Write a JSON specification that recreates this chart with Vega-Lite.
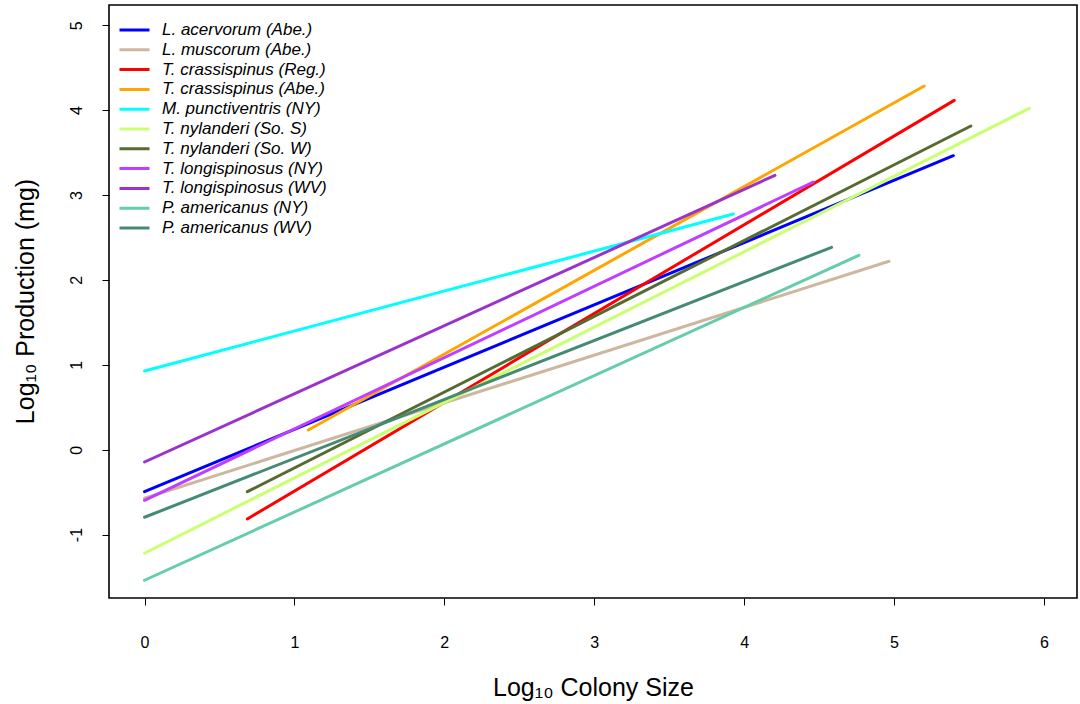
{
  "$schema": "https://vega.github.io/schema/vega-lite/v6.json",
  "width": 968,
  "height": 593,
  "autosize": {"type": "none"},
  "padding": {"left": 109, "top": 5, "right": 3, "bottom": 106},
  "background": "white",
  "config": {
    "font": "Liberation Sans",
    "view": {"stroke": "black", "strokeWidth": 1.6}
  },
  "data": {
    "values": [
      {"series": "L. acervorum (Abe.)", "x": 0.0, "y": -0.495},
      {"series": "L. acervorum (Abe.)", "x": 5.396, "y": 3.463},
      {"series": "L. muscorum (Abe.)", "x": 0.0, "y": -0.572},
      {"series": "L. muscorum (Abe.)", "x": 4.967, "y": 2.219},
      {"series": "T. crassispinus (Reg.)", "x": 0.686, "y": -0.816},
      {"series": "T. crassispinus (Reg.)", "x": 5.402, "y": 4.115},
      {"series": "T. crassispinus (Abe.)", "x": 1.093, "y": 0.232},
      {"series": "T. crassispinus (Abe.)", "x": 5.202, "y": 4.284},
      {"series": "M. punctiventris (NY)", "x": 0.0, "y": 0.927},
      {"series": "M. punctiventris (NY)", "x": 3.928, "y": 2.776},
      {"series": "T. nylanderi (So. S)", "x": 0.0, "y": -1.22},
      {"series": "T. nylanderi (So. S)", "x": 5.903, "y": 4.021},
      {"series": "T. nylanderi (So. W)", "x": 0.686, "y": -0.495},
      {"series": "T. nylanderi (So. W)", "x": 5.513, "y": 3.813},
      {"series": "T. longispinosus (NY)", "x": 0.0, "y": -0.596},
      {"series": "T. longispinosus (NY)", "x": 4.462, "y": 3.153},
      {"series": "T. longispinosus (WV)", "x": 0.0, "y": -0.145},
      {"series": "T. longispinosus (WV)", "x": 4.206, "y": 3.232},
      {"series": "P. americanus (NY)", "x": 0.0, "y": -1.538},
      {"series": "P. americanus (NY)", "x": 4.766, "y": 2.29},
      {"series": "P. americanus (WV)", "x": 0.0, "y": -0.796},
      {"series": "P. americanus (WV)", "x": 4.584, "y": 2.384}
    ]
  },
  "mark": {"type": "line", "strokeWidth": 3, "strokeCap": "round"},
  "encoding": {
    "x": {
      "field": "x",
      "type": "quantitative",
      "scale": {"domain": [-0.237, 6.221], "nice": false, "zero": false},
      "axis": {
        "values": [0, 1, 2, 3, 4, 5, 6],
        "labelExpr": "'' + datum.value",
        "grid": false,
        "domain": false,
        "tickColor": "black",
        "tickSize": 7,
        "tickWidth": 1,
        "labelFontSize": 16,
        "labelColor": "black",
        "labelBaseline": "alphabetic",
        "labelPadding": 42,
        "title": "Log₁₀ Colony Size",
        "titleFontSize": 25,
        "titleFontWeight": "normal",
        "titleColor": "black",
        "titleBaseline": "alphabetic",
        "titleY": 97,
        "titleX": 484
      }
    },
    "y": {
      "field": "y",
      "type": "quantitative",
      "scale": {"domain": [-1.747, 5.238], "nice": false, "zero": false},
      "axis": {
        "values": [-1, 0, 1, 2, 3, 4, 5],
        "labelExpr": "'' + datum.value",
        "grid": false,
        "domain": false,
        "tickColor": "black",
        "tickSize": 7,
        "tickWidth": 1,
        "labelFontSize": 16,
        "labelColor": "black",
        "labelAngle": -90,
        "labelAlign": "center",
        "labelBaseline": "alphabetic",
        "labelPadding": 21,
        "title": "Log₁₀ Production (mg)",
        "titleFontSize": 25,
        "titleFontWeight": "normal",
        "titleColor": "black",
        "titleAngle": -90,
        "titleAlign": "center",
        "titleBaseline": "alphabetic",
        "titleX": -76,
        "titleY": 296
      }
    },
    "color": {
      "field": "series",
      "type": "nominal",
      "scale": {
        "domain": [
          "L. acervorum (Abe.)",
          "L. muscorum (Abe.)",
          "T. crassispinus (Reg.)",
          "T. crassispinus (Abe.)",
          "M. punctiventris (NY)",
          "T. nylanderi (So. S)",
          "T. nylanderi (So. W)",
          "T. longispinosus (NY)",
          "T. longispinosus (WV)",
          "P. americanus (NY)",
          "P. americanus (WV)"
        ],
        "range": [
          "#0000FF",
          "#CDB79E",
          "#FF0000",
          "#FFA500",
          "#00FFFF",
          "#CAFF70",
          "#556B2F",
          "#BF3EFF",
          "#9A32CD",
          "#66CDAA",
          "#458B74"
        ]
      },
      "legend": {
        "orient": "none",
        "legendX": 9,
        "legendY": 16,
        "title": null,
        "padding": 0,
        "symbolType": "stroke",
        "symbolSize": 900,
        "symbolStrokeWidth": 3,
        "labelFontSize": 17,
        "labelFontStyle": "italic",
        "labelColor": "black",
        "labelOffset": 11,
        "labelLimit": 400,
        "clipHeight": 18,
        "rowPadding": 1.8
      }
    }
  }
}
